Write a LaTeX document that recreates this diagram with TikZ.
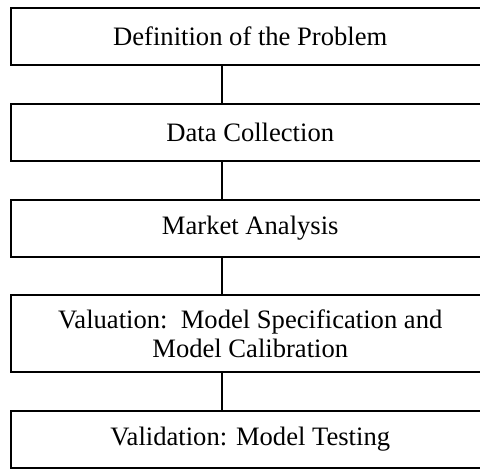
\documentclass[tikz,border=0pt]{standalone}
\usepackage{fontspec}
\setmainfont{Liberation Serif}
\usetikzlibrary{positioning}

\begin{document}
\begin{tikzpicture}[x=0.5pt,y=-0.5pt,inner sep=0pt,
  stage/.style={draw,line width=1pt,minimum width=239.75pt,minimum height=28.5pt,
    align=center,font=\fontsize{13.3}{14.4}\selectfont},
  link/.style={line width=1pt}]
\useasboundingbox (0,0) rectangle (480,468);
\clip (0,0) rectangle (480,468);

\node (def) [stage] at (250.25,36.5) {Definition of the Problem};
\node (data) [stage] at (250.25,132.5) {Data Collection};
\node (market) [stage] at (250.25,228.5) {Market Analysis};
\node (valu) [stage,minimum height=38.5pt] at (250.25,333.5) {Valuation:\ \ Model Specification and\\Model Calibration};
\node (vali) [stage] at (250.25,439.5) {Validation: Model Testing};

% connectors run down the left of centre
\coordinate (spine) at (221.7,0);
\draw[link] (def.south -| spine) -- (data.north -| spine);
\draw[link] (data.south -| spine) -- (market.north -| spine);
\draw[link] (market.south -| spine) -- (valu.north -| spine);
\draw[link] (valu.south -| spine) -- (vali.north -| spine);
\end{tikzpicture}
\end{document}
